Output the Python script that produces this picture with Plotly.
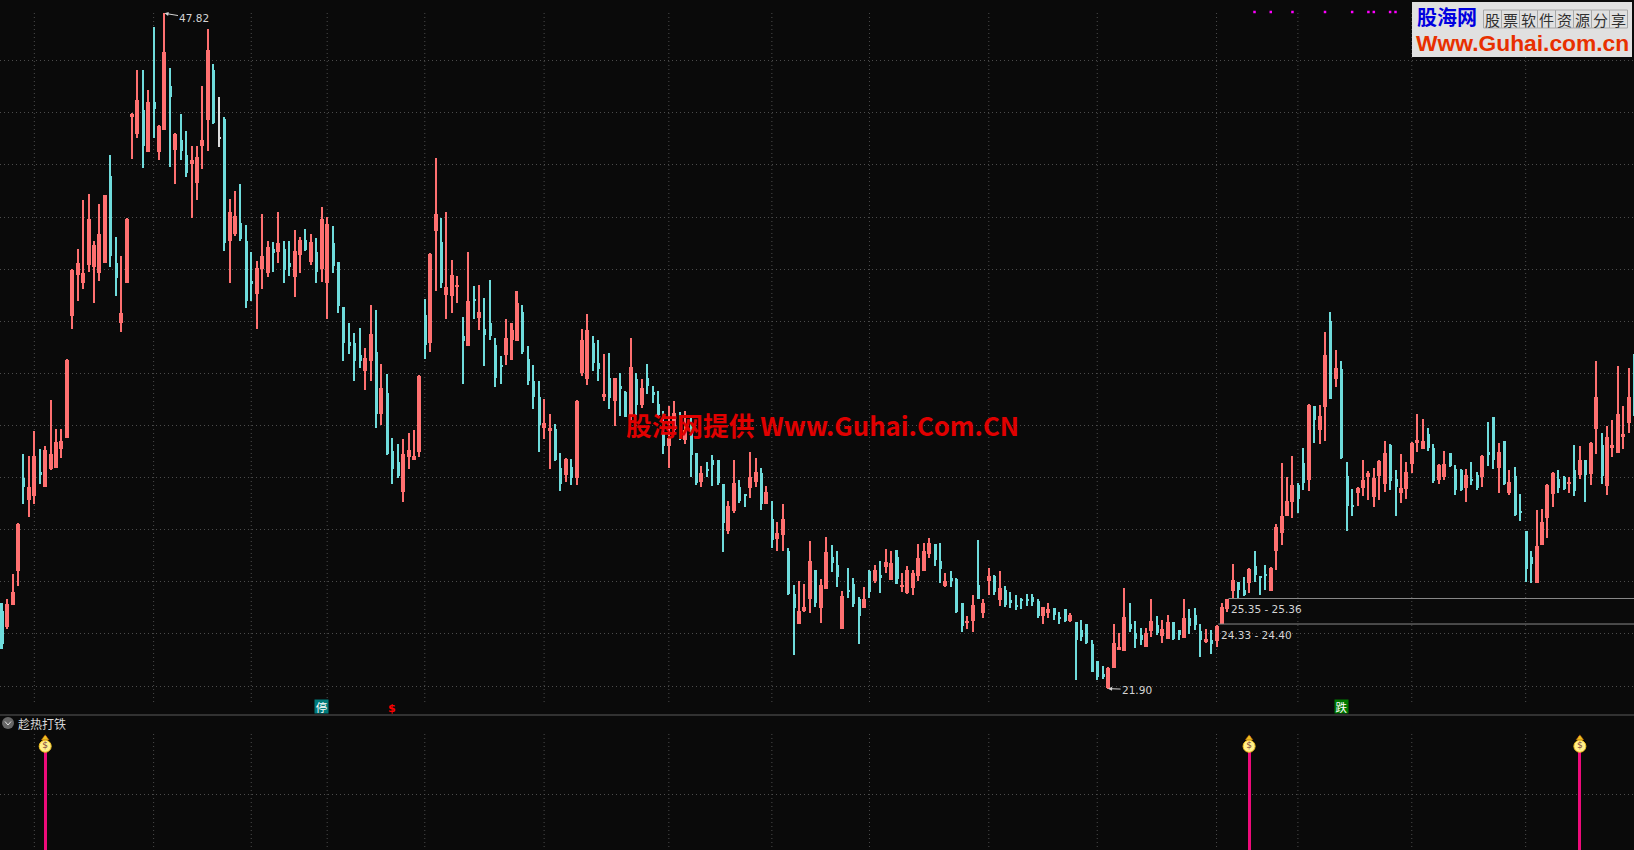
import plotly.graph_objects as go

opens = [
24.87,24.26,25.10,26.40,29.97,29.13,29.28,30.20,29.63,30.32,
30.36,31.09,31.51,36.19,37.77,37.46,38.15,38.07,37.84,38.23,
41.57,38.23,35.92,37.46,43.87,43.18,44.10,42.49,44.41,42.49,
43.33,45.02,42.56,42.95,42.37,42.03,41.30,42.72,43.71,45.63,
43.02,43.75,39.07,39.34,39.76,39.07,37.54,37.04,37.99,37.84,
38.76,38.65,38.76,38.23,37.69,38.53,39.11,38.26,38.65,37.99,
37.46,38.99,38.26,36.54,35.19,35.16,34.70,34.08,34.46,34.81,
32.43,33.24,31.01,30.59,29.44,30.78,30.67,30.97,36.23,35.16,
39.45,39.03,37.00,36.96,37.30,35.42,35.04,36.84,36.11,35.69,
35.92,35.08,34.31,34.70,35.27,35.23,36.35,34.54,33.70,33.08,
31.89,31.78,31.85,30.36,30.09,30.40,29.97,34.00,33.77,35.16,
34.39,33.08,33.81,32.93,33.50,33.27,32.32,33.77,32.78,33.81,
33.27,32.81,31.70,31.20,31.82,32.20,31.43,31.93,30.93,29.82,
30.32,30.67,30.67,29.74,27.94,28.71,29.63,29.36,29.59,29.82,
30.17,28.98,28.40,27.63,27.79,27.17,25.52,24.37,24.87,25.33,
26.44,24.99,25.71,26.94,26.64,24.18,25.68,25.91,25.33,24.99,
26.41,26.02,26.25,26.56,26.06,26.94,25.79,25.56,25.75,26.21,
26.40,27.06,27.44,26.79,25.83,26.14,26.10,25.18,24.41,24.49,
25.87,24.79,26.02,26.21,25.29,25.68,25.29,25.10,25.33,25.33,
25.41,25.25,24.68,24.79,24.99,24.64,24.95,24.49,24.45,24.14,
24.37,23.60,22.95,22.45,21.91,22.68,23.37,23.33,24.37,24.03,
23.95,23.49,24.10,24.33,23.91,23.80,24.45,24.14,23.83,24.60,
24.72,24.10,23.68,23.76,23.72,24.37,24.95,25.64,25.98,25.68,
25.94,26.60,26.21,26.29,25.64,27.17,27.86,28.52,29.05,29.71,
30.55,29.90,32.74,31.82,32.70,36.00,33.77,34.16,30.05,28.94,
29.40,29.59,30.01,29.25,30.05,29.74,31.24,29.94,29.40,29.55,
30.51,31.32,31.09,31.66,31.13,29.90,30.01,30.93,30.32,30.28,
29.59,29.94,30.09,30.01,30.97,32.32,30.36,31.39,29.40,30.05,
28.71,27.94,26.94,25.94,27.40,28.44,29.36,29.94,30.01,29.74,
30.28,30.09,30.67,30.13,31.85,31.24,29.67,31.13,30.93,31.59,
32.09,34.62]

closes = [
23.60,25.14,25.60,28.21,29.63,29.63,30.82,30.09,31.05,30.90,
31.36,31.39,34.50,37.96,38.23,37.84,39.91,38.92,39.34,40.83,
38.49,37.65,36.31,39.91,43.94,44.48,42.72,44.41,44.14,43.48,
46.32,44.60,43.18,42.52,41.68,42.18,42.29,42.95,46.40,43.60,
43.02,38.99,40.18,40.03,39.15,36.77,37.42,38.03,38.49,38.84,
38.61,38.99,37.96,38.07,38.69,39.11,38.73,39.03,37.88,39.91,
39.72,38.11,36.58,35.16,35.04,34.46,34.46,34.58,35.50,32.43,
33.43,30.90,30.32,30.05,30.90,31.05,30.82,33.89,35.08,38.57,
40.11,37.46,37.30,37.77,37.38,35.23,36.77,36.79,36.35,35.46,
35.42,33.81,34.23,35.35,35.65,36.69,34.81,33.70,33.08,32.01,
32.09,31.89,30.67,29.74,30.70,29.97,32.93,35.27,35.65,34.39,
34.16,33.20,33.04,33.81,33.39,32.32,34.23,32.78,33.43,33.50,
33.16,32.39,31.20,31.51,32.47,31.82,31.82,30.86,29.78,30.17,
30.24,30.47,29.78,28.25,28.90,29.78,29.09,29.32,30.01,30.20,
28.98,29.44,27.59,27.86,28.40,25.52,24.99,24.87,25.02,26.79,
25.18,25.87,27.13,26.71,26.17,25.45,25.64,25.14,24.68,25.33,
25.60,26.44,26.14,26.75,26.71,26.10,25.87,26.44,26.33,26.90,
27.17,27.48,26.83,26.48,26.02,26.02,24.83,24.29,24.49,25.10,
25.33,25.18,26.21,25.60,25.75,25.10,25.22,25.06,25.25,25.29,
25.22,24.68,25.02,24.95,24.72,24.60,24.49,24.72,23.76,23.87,
23.64,22.53,22.34,22.34,22.68,23.64,23.49,24.64,24.18,23.80,
23.76,24.03,24.49,24.03,24.18,24.45,23.80,23.95,24.60,24.29,
24.33,23.76,23.80,23.60,24.29,25.02,25.33,26.06,25.68,25.48,
26.48,26.25,26.17,26.25,26.52,28.09,28.52,29.09,29.71,29.17,
29.78,32.78,32.20,32.35,34.69,33.01,34.20,30.74,28.90,28.90,
29.59,29.90,30.17,29.97,30.63,30.93,29.86,29.63,29.59,30.20,
31.32,31.43,31.39,31.13,29.86,30.47,30.51,30.43,29.51,29.51,
30.09,29.86,29.59,30.82,30.86,30.67,30.97,29.74,29.82,28.55,
28.67,26.48,26.67,27.37,28.29,29.71,30.17,29.59,29.55,29.82,
29.48,30.67,30.09,31.32,33.08,30.05,31.55,31.24,32.43,31.66,
33.08,32.35]

highs = [
25.18,25.33,26.29,28.25,30.90,30.82,31.78,31.09,31.20,32.97,
31.85,31.85,34.54,37.99,38.76,40.64,40.87,39.07,40.49,40.84,
42.37,39.22,38.49,39.95,43.98,45.63,45.63,44.87,47.28,43.52,
47.82,45.71,43.22,43.94,43.29,42.72,42.72,45.02,47.21,45.86,
44.60,43.83,40.68,40.99,41.26,39.68,38.65,38.30,40.11,39.07,
39.03,40.18,39.07,39.07,39.49,39.22,39.53,39.34,39.19,40.37,
39.99,39.65,38.26,36.54,35.92,35.54,35.73,34.96,36.61,36.42,
34.35,33.97,31.51,31.28,31.47,31.70,31.82,33.93,36.84,38.61,
42.26,39.95,40.18,38.34,37.73,36.15,38.65,37.34,37.38,36.88,
37.57,35.35,34.66,36.08,35.92,37.15,36.61,35.04,34.31,33.70,
33.01,32.43,32.05,30.93,30.74,30.70,32.97,35.69,36.27,35.42,
35.27,34.73,34.77,33.81,34.00,33.31,35.35,34.00,33.77,34.35,
33.50,33.31,32.55,32.74,32.93,32.51,32.55,32.32,30.93,30.43,
30.59,30.86,30.67,29.74,29.09,30.67,29.90,29.36,30.97,30.74,
30.36,29.67,29.09,28.29,28.98,27.29,25.87,26.02,25.91,27.56,
26.44,26.10,27.71,27.40,27.17,25.64,26.52,26.14,25.41,25.79,
26.44,26.64,26.79,27.25,27.17,27.21,26.33,26.60,26.44,27.44,
27.48,27.67,27.44,27.48,26.33,26.40,26.14,25.18,24.68,25.48,
27.59,25.33,26.52,26.25,26.40,25.83,25.60,25.48,25.37,25.52,
25.52,25.33,25.02,25.18,24.99,24.83,24.95,24.79,24.45,24.52,
24.37,23.76,22.95,22.76,22.72,24.37,24.03,25.75,25.18,24.49,
24.22,24.22,25.33,24.68,24.52,24.72,24.45,24.14,25.33,24.95,
24.99,24.37,24.18,24.14,24.33,25.18,25.33,26.67,25.98,26.17,
26.52,27.17,26.21,26.64,26.56,28.21,30.55,30.01,30.82,29.78,
31.13,32.81,32.74,32.78,35.58,36.35,34.89,34.46,30.59,29.55,
29.63,30.67,30.24,30.36,30.67,31.39,31.28,30.28,30.90,30.59,
31.36,32.43,32.24,31.89,31.28,30.51,31.01,30.93,30.47,30.32,
30.32,30.59,30.20,30.86,32.12,32.32,31.32,31.39,30.28,30.40,
29.36,27.94,27.17,28.75,28.78,29.74,30.20,30.28,30.05,30.01,
31.24,31.20,30.67,31.36,34.46,31.70,31.97,32.20,34.27,32.74,
34.20,34.73]

lows = [
23.41,24.18,25.10,25.83,28.98,28.48,28.98,29.74,29.63,30.28,
30.36,30.74,31.51,35.69,36.77,37.23,37.88,36.69,37.54,38.23,
38.07,36.96,35.58,37.46,42.22,43.02,41.87,42.49,43.02,42.18,
43.33,41.91,41.26,42.18,41.53,39.95,40.64,41.83,42.52,43.56,
42.68,38.69,37.46,39.26,39.07,36.50,36.77,35.69,37.23,37.69,
37.88,38.23,37.46,37.73,36.92,37.84,38.69,38.15,37.46,37.50,
36.08,37.84,36.31,34.46,34.73,33.70,34.20,33.35,33.70,31.89,
32.01,30.86,29.74,29.97,29.05,30.32,30.67,30.78,34.54,34.81,
37.15,37.27,36.08,36.31,36.69,33.58,35.04,36.08,35.65,34.27,
35.27,33.47,33.58,34.31,34.50,35.23,34.73,33.54,32.62,30.97,
31.47,30.32,30.63,29.48,29.82,29.71,29.71,33.89,33.54,34.08,
33.70,32.93,32.62,31.97,32.35,32.32,32.20,32.39,32.66,33.20,
32.85,32.32,30.90,30.36,31.70,31.43,31.28,30.01,29.71,29.63,
30.01,29.67,29.71,27.13,27.83,28.63,29.01,28.86,29.21,29.63,
28.75,28.98,27.29,27.17,27.17,25.48,23.18,24.37,24.83,24.79,
25.02,24.41,25.71,26.37,25.79,24.18,25.37,25.02,23.60,24.99,
25.37,25.94,25.56,26.33,26.06,25.91,25.60,25.52,25.48,26.02,
26.40,26.90,26.60,25.94,25.79,25.79,24.79,24.06,24.18,24.06,
25.33,24.60,25.48,25.48,25.06,25.02,24.99,24.91,24.95,25.06,
25.06,24.60,24.37,24.60,24.52,24.37,24.45,24.45,22.22,23.72,
23.60,22.53,22.22,22.26,21.90,22.68,23.37,23.33,24.06,23.45,
23.56,23.49,23.87,23.95,23.64,23.80,23.76,23.76,23.83,23.99,
24.14,23.10,23.64,23.22,23.49,24.37,24.83,25.33,25.33,25.45,
25.56,25.98,25.48,25.68,25.64,26.44,27.40,28.52,28.44,28.63,
29.51,29.48,31.32,31.28,31.39,33.01,33.47,30.70,27.94,28.52,
28.90,29.28,29.13,28.86,29.13,29.44,29.51,28.52,29.01,29.17,
30.17,30.97,31.09,31.01,29.78,29.74,29.90,30.40,29.32,29.48,
29.05,29.71,29.51,29.63,30.43,30.32,29.40,29.71,29.32,28.52,
28.32,25.98,25.94,25.94,27.40,27.67,28.86,29.40,29.51,29.40,
29.28,29.94,29.05,29.71,30.90,29.74,29.32,30.78,30.93,31.09,
31.70,32.35]

price_ticks = [22,24,26,28,30,32,34,36,38,40,42,44,46]
date_breaks = [6,28,46,60,78,100,123,142,160,182,202,224,239,260,281]
signal_bars = [8,230,291]
signal_values = [100,100,100]
signal_tick = [49]
top_dots_x = [231,234,238,244,249,252,253,256,257]
top_dots_y = [47.87]*9
range_hi = {"x":[226.2,301],"y":[25.36,25.36]}
range_lo = {"x":[224.3,301],"y":[24.38,24.38]}
high_label, low_label = "47.82", "21.90"
range_labels = ["25.35 - 25.36","24.33 - 24.40"]

W, H = 1634, 850
PX = 5.423
XR = [-1.8/PX,(W-1.8)/PX]
YTOP = 48.33
BG = "#0a0a0a"; RED = "#ff7070"; CYAN = "#6fdcdc"; WHITE = "#dcdcdc"
GRID = "#4c4c4c"; DASH = "1px,3px"
TXT = "#d4d4d4"
CJK = "Noto Sans CJK SC"

def py(y): return 1 - y/H
def px(x): return x/W

idx = list(range(len(opens)))
groups = {
    "up":[i for i in idx if closes[i]>opens[i]],
    "down":[i for i in idx if closes[i]<opens[i]],
    "flat":[i for i in idx if closes[i]==opens[i]],
}
fig = go.Figure()
style = {"up":(RED,-2,4),"down":(CYAN,-1,3),"flat":(WHITE,-1,3)}
for name,g in groups.items():
    col,off,wid = style[name]
    fig.add_bar(x=g, base=[lows[i] for i in g], y=[highs[i]-lows[i] for i in g],
                width=2/PX, offset=-1/PX, marker=dict(color=col,line_width=0), hoverinfo="skip", showlegend=False)
    fig.add_bar(x=g, base=[min(opens[i],closes[i]) for i in g],
                y=[max(abs(opens[i]-closes[i]),0.05) for i in g],
                width=wid/PX, offset=off/PX, marker=dict(color=col,line_width=0), hoverinfo="skip", showlegend=False)

fig.add_scatter(x=top_dots_x,y=top_dots_y,mode="markers",marker=dict(symbol="square",size=2.5,color="#ff00ff",line_width=0),hoverinfo="skip",showlegend=False)
for r in (range_hi,range_lo):
    fig.add_scatter(x=r["x"],y=r["y"],mode="lines",line=dict(color="#8a8a8a",width=1),hoverinfo="skip",showlegend=False)

# indicator panel
fig.add_bar(x=signal_bars,y=signal_values,width=3/PX,xaxis="x2",yaxis="y2",marker=dict(color="#ee0b7a",line_width=0),hoverinfo="skip",showlegend=False)
fig.add_scatter(x=signal_bars,y=[98]*3,mode="markers",xaxis="x2",yaxis="y2",
    marker=dict(symbol="triangle-up",size=7,color="#f0c020",line=dict(color="#803000",width=0.5)),hoverinfo="skip",showlegend=False)
fig.add_scatter(x=signal_bars,y=[91]*3,mode="markers+text",xaxis="x2",yaxis="y2",
    marker=dict(symbol="circle",size=12,color="#fff08a",line=dict(color="#f0c020",width=1)),
    text=["$"]*3,textposition="middle center",textfont=dict(size=9,color="#804040",family="DejaVu Sans"),hoverinfo="skip",showlegend=False)

shapes=[]
for d in date_breaks:
    # main panel: y 13..702 px; indicator panel: y 734..850 px
    shapes.append(dict(type="line",xref="x",yref="paper",x0=d,x1=d,y0=py(13),y1=py(702),line=dict(color=GRID,width=1,dash=DASH),layer="below"))
    shapes.append(dict(type="line",xref="x",yref="paper",x0=d,x1=d,y0=py(734),y1=py(850),line=dict(color=GRID,width=1,dash=DASH),layer="below"))
# panel divider
shapes.append(dict(type="line",xref="paper",yref="paper",x0=0,x1=1,y0=py(715),y1=py(715),line=dict(color="#5a5a5a",width=1)))
# collapse button
shapes.append(dict(type="circle",xref="paper",yref="paper",x0=px(2),x1=px(14),y0=py(717),y1=py(729),fillcolor="#666666",line_width=0))
shapes.append(dict(type="path",xref="paper",yref="paper",path=f"M {px(5)} {py(721.5)} L {px(8)} {py(725)} L {px(11)} {py(721.5)}",line=dict(color="#e0e0e0",width=1)))
# logo
shapes.append(dict(type="rect",xref="paper",yref="paper",x0=px(1412),x1=px(1632),y0=py(2),y1=py(57),fillcolor="#e0e0e0",line_width=0))
cells = "股票软件资源分享"
cx0, cw = 1483.5, 18
for k in range(len(cells)):
    shapes.append(dict(type="rect",xref="paper",yref="paper",x0=px(cx0+k*cw),x1=px(cx0+(k+1)*cw),y0=py(10),y1=py(28),line=dict(color="#a8a8a8",width=1)))

ann=[]
def label(text,x,y,size=10.5,color=TXT,family="DejaVu Sans",anchor="left",**kw):
    ann.append(dict(text=text,x=px(x),y=py(y),xref="paper",yref="paper",xanchor=anchor,yanchor="middle",showarrow=False,
                    font=dict(size=size,color=color,family=family),borderpad=0,**kw))

ann.append(dict(text=high_label,x=30,y=47.82,xref="x",yref="y",ax=30,ay=5,axref="pixel",ayref="pixel",showarrow=True,arrowhead=2,arrowsize=0.8,arrowwidth=1,arrowcolor=TXT,standoff=0,font=dict(size=10.5,color=TXT,family="DejaVu Sans")))
ann.append(dict(text=low_label,x=204,y=21.90,xref="x",yref="y",ax=29,ay=1,axref="pixel",ayref="pixel",showarrow=True,arrowhead=2,arrowsize=0.8,arrowwidth=1,arrowcolor=TXT,standoff=0,font=dict(size=10.5,color=TXT,family="DejaVu Sans")))
label(range_labels[0],1230,609)
label(range_labels[1],1219.5,635)
label("趁热打铁",17,723,size=12,color="#d8d8d8",family=CJK)
label("<b>股海网提供 Www.Guhai.Com.CN</b>",625,424.5,size=25.7,color="#e00000",family=CJK)
for txt,i,bg in (("停",59,"#007a7a"),("跌",247,"#007a00")):
    ann.append(dict(text=txt,x=i,y=py(706.5),xref="x",yref="paper",showarrow=False,xanchor="center",yanchor="middle",width=13,height=13,bgcolor=bg,borderpad=0,font=dict(size=11.5,color="#ffffff",family=CJK)))
ann.append(dict(text="<b>$</b>",x=72,y=py(708),xref="x",yref="paper",xanchor="center",yanchor="middle",showarrow=False,font=dict(size=11,color="#ff0000",family="DejaVu Sans")))
label("<b>股海网</b>",1416,18,size=20,color="#0000e0",family="Liberation Sans, "+CJK)
for k,c in enumerate(cells):
    label(c,cx0+(k+.5)*cw,19,size=15,color="#303030",family=CJK,anchor="center",height=18)
label("<b>Www.Guhai.com.cn</b>",1415,42.5,size=22.8,color="#e83000",family="Liberation Sans")

fig.update_layout(
    width=W,height=H,margin=dict(l=0,r=0,t=0,b=0),autosize=False,
    paper_bgcolor=BG,plot_bgcolor=BG,barmode="overlay",showlegend=False,bargap=0,
    shapes=shapes,annotations=ann,
    xaxis=dict(range=XR,domain=[0,1],anchor="y",showgrid=False,zeroline=False,showticklabels=False,ticks="",fixedrange=True),
    yaxis=dict(domain=[py(714),1],range=[YTOP-0.03838*714,YTOP],tickvals=price_ticks,showgrid=True,gridcolor=GRID,griddash=DASH,gridwidth=1,
               zeroline=False,showticklabels=False,ticks="",fixedrange=True),
    xaxis2=dict(range=XR,domain=[0,1],anchor="y2",showgrid=False,zeroline=False,showticklabels=False,ticks="",fixedrange=True),
    yaxis2=dict(domain=[0,py(715)],range=[0,118.4],tickvals=signal_tick,showgrid=True,gridcolor=GRID,griddash=DASH,gridwidth=1,
               zeroline=False,showticklabels=False,ticks="",fixedrange=True),
)
fig.write_html("out.html",config={"displayModeBar":False},
    post_script="document.body.style.margin='0';document.body.style.overflow='hidden';document.body.style.background='#0a0a0a';")
